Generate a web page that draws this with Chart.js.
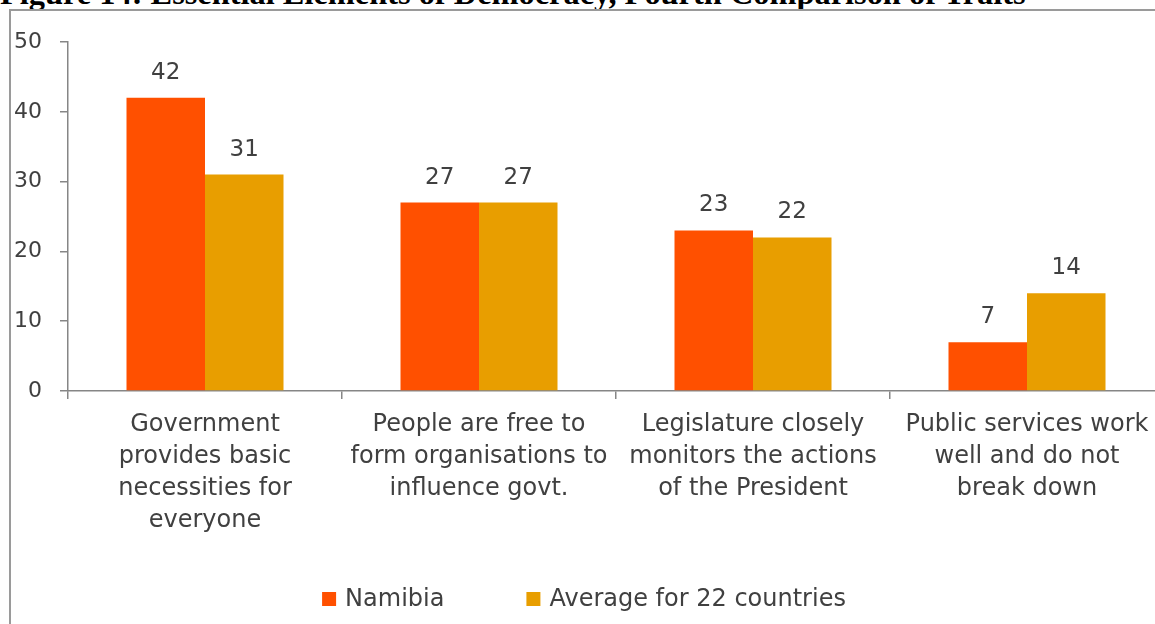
<!DOCTYPE html>
<html>
<head>
<meta charset="utf-8">
<script src="https://cdn.jsdelivr.net/npm/chart.js@4.4.1/dist/chart.umd.min.js"></script>
<style>
  html, body { margin: 0; padding: 0; background: #fff; overflow: hidden; width: 1155px; height: 624px; }
  #title { position: absolute; left: 0; top: -23px; white-space: nowrap; font: bold 32.4px/32px "Liberation Serif", "Times New Roman", serif; color: #000; }
  #frame { position: absolute; left: 9px; top: 9px; width: 1300px; height: 700px; border-left: 2px solid #9a9a9a; border-top: 2px solid #9a9a9a; }
  #wrap { position: absolute; left: 0; top: 0; width: 1170px; height: 624px; }
</style>
</head>
<body>
<div id="title">Figure 14: Essential Elements of Democracy, Fourth Comparison of Traits</div>
<div id="frame"></div>
<div id="wrap"><canvas id="c"></canvas></div>
<script>
const categories = [
  ["Government", "provides basic", "necessities for", "everyone"],
  ["People are free to", "form organisations to", "influence govt."],
  ["Legislature closely", "monitors the actions", "of the President"],
  ["Public services work", "well and do not", "break down"]
];
const seriesNames = ["Namibia", "Average for 22 countries"];
const namibia = [42, 27, 23, 7];
const average22 = [31, 27, 22, 14];
const yTicks = [0, 10, 20, 30, 40, 50];

const textColor = "#404040";
const axisColor = "#868686";
const fontFamily = "'DejaVu Sans', sans-serif";

const valueLabels = {
  id: "valueLabels",
  afterDatasetsDraw(chart) {
    const ctx = chart.ctx;
    ctx.save();
    ctx.font = "23px " + fontFamily;
    ctx.fillStyle = textColor;
    ctx.textAlign = "center";
    ctx.textBaseline = "middle";
    chart.data.datasets.forEach((ds, di) => {
      const meta = chart.getDatasetMeta(di);
      meta.data.forEach((bar, i) => {
        ctx.fillText(String(ds.data[i]), bar.x, bar.y - 25);
      });
    });
    ctx.restore();
  }
};

// Legend drawn from the datasets (labels and colours), laid out like the original
const bottomLegend = {
  id: "bottomLegend",
  afterDraw(chart) {
    const ctx = chart.ctx;
    const box = 14, gapText = 9, gapItem = 82, centerX = 584, centerY = 599;
    ctx.save();
    ctx.font = "24px " + fontFamily;
    ctx.textBaseline = "middle";
    ctx.textAlign = "left";
    const items = chart.data.datasets.map(ds => ({ text: ds.label, color: ds.backgroundColor, w: ctx.measureText(ds.label).width }));
    let total = 0;
    items.forEach((it, i) => { total += box + gapText + it.w + (i < items.length - 1 ? gapItem : 0); });
    let x = centerX - total / 2;
    items.forEach((it) => {
      ctx.fillStyle = it.color;
      ctx.fillRect(x, centerY - box / 2, box, box);
      ctx.fillStyle = textColor;
      ctx.fillText(it.text, x + box + gapText, centerY + 1);
      x += box + gapText + it.w + gapItem;
    });
    ctx.restore();
  }
};

new Chart(document.getElementById("c"), {
  type: "bar",
  data: {
    labels: categories,
    datasets: [
      { label: seriesNames[0], data: namibia, backgroundColor: "#FF5000", borderWidth: 0 },
      { label: seriesNames[1], data: average22, backgroundColor: "#E89E00", borderWidth: 0 }
    ]
  },
  options: {
    responsive: true,
    maintainAspectRatio: false,
    animation: false,
    events: [],
    layout: { padding: { top: 42, left: 0, right: 6, bottom: 0 } },
    datasets: { bar: { categoryPercentage: 0.573, barPercentage: 1.0 } },
    plugins: {
      tooltip: { enabled: false },
      title: { display: false },
      legend: { display: false }
    },
    scales: {
      x: {
        grid: { display: true, drawOnChartArea: false, drawTicks: true, tickLength: 8, color: axisColor, lineWidth: 1.5, offset: true },
        border: { display: true, color: axisColor, width: 1.5 },
        ticks: {
          color: textColor,
          padding: 10,
          maxRotation: 0,
          autoSkip: false,
          font: { family: fontFamily, size: 24, lineHeight: "32px" }
        },
        afterFit(scale) { scale.height = 233; }
      },
      y: {
        min: 0,
        max: 50,
        afterBuildTicks(scale) { scale.ticks = yTicks.map(v => ({ value: v })); },
        grid: { display: true, drawOnChartArea: false, drawTicks: true, tickLength: 8, color: axisColor, lineWidth: 1.5 },
        border: { display: true, color: axisColor, width: 1.5 },
        ticks: {
          color: textColor,
          padding: 18,
          font: { family: fontFamily, size: 22 }
        },
        afterFit(scale) { scale.width = 68; }
      }
    }
  },
  plugins: [valueLabels, bottomLegend]
});
</script>
</body>
</html>
